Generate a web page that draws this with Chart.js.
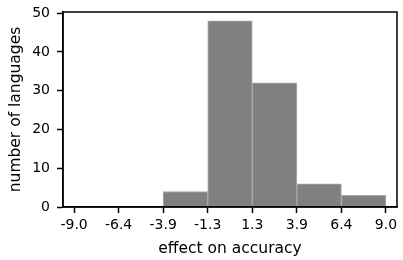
<!DOCTYPE html>
<html lang="en">
<head>
    <meta charset="UTF-8">
    <title>Histogram</title>
    <style>
        body { margin: 0; background: #fff; }
        #box { width: 403px; height: 260px; }
    </style>
</head>
<body>
    <div id="box"><canvas id="histChart"></canvas></div>
<script src="https://cdn.jsdelivr.net/npm/chart.js"></script>
<script>
    // bin edges and counts
    const binEdges = [-9.0, -6.43, -3.86, -1.29, 1.29, 3.86, 6.43, 9.0];
    const counts = [0, 0, 4, 48, 32, 6, 3];
    const yTicks = [0, 10, 20, 30, 40, 50];

    let points = [];
    for (let i = 0; i < counts.length; i++) {
        points.push({ x: (binEdges[i] + binEdges[i + 1]) / 2, y: counts[i] });
    }

    // top and right spines
    const frame = {
        id: 'frame',
        afterDraw(chart) {
            const a = chart.chartArea;
            const ctx = chart.ctx;
            ctx.save();
            ctx.strokeStyle = '#000';
            ctx.lineWidth = 1.5;
            ctx.strokeRect(a.left, a.top, a.right - a.left, a.bottom - a.top);
            ctx.restore();
        }
    };

    const font = { family: 'DejaVu Sans', size: 14 };
    const titleFont = { family: 'DejaVu Sans', size: 15.5 };

    new Chart(document.getElementById('histChart'), {
        type: 'bar',
        data: {
            datasets: [{
                data: points,
                backgroundColor: '#808080',
                borderColor: '#a9a9a9',
                borderWidth: 1,
                barPercentage: 1,
                categoryPercentage: 1
            }]
        },
        options: {
            responsive: true,
            maintainAspectRatio: false,
            animation: false,
            layout: { padding: { left: 0, right: 6, top: 12, bottom: 0 } },
            plugins: { legend: { display: false }, tooltip: { enabled: false } },
            scales: {
                x: {
                    type: 'linear',
                    offset: false,
                    min: -9.64,
                    max: 9.64,
                    afterBuildTicks: (s) => { s.ticks = binEdges.map(v => ({ value: v })); },
                    afterFit: (s) => { s.height = 53; },
                    ticks: {
                        color: '#000', font: font, padding: 4, maxRotation: 0,
                        callback: (v) => v.toFixed(1)
                    },
                    grid: { offset: false, drawOnChartArea: false, tickLength: 6, tickColor: '#000', tickWidth: 1.5 },
                    border: { color: '#000', width: 1.5 },
                    title: {
                        display: true, text: 'effect on accuracy', color: '#000',
                        font: titleFont, padding: { top: 0, bottom: 2 }
                    }
                },
                y: {
                    min: 0,
                    max: 50.3,
                    afterBuildTicks: (s) => { s.ticks = yTicks.map(v => ({ value: v })); },
                    afterFit: (s) => { s.width = 63; s.paddingTop = 0; s.paddingBottom = 0; },
                    ticks: { color: '#000', font: font, padding: 7 },
                    grid: { drawOnChartArea: false, tickLength: 6, tickColor: '#000', tickWidth: 1.5 },
                    border: { color: '#000', width: 1.5 },
                    title: {
                        display: true, text: 'number of languages', color: '#000',
                        font: titleFont, padding: { top: 7, bottom: 0 }
                    }
                }
            }
        },
        plugins: [frame]
    });
</script>
</body>
</html>
